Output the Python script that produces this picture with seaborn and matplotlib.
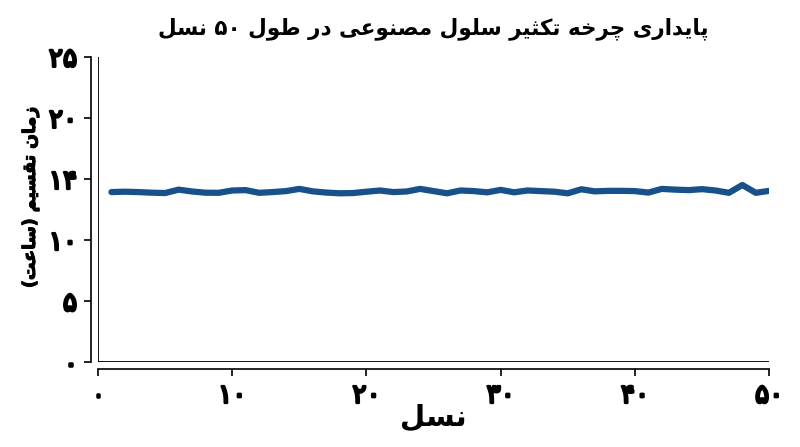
import re
import numpy as np
import matplotlib
matplotlib.use("Agg")
import matplotlib.pyplot as plt
import matplotlib.patheffects as pe
import seaborn as sns
import pandas as pd

# generation number and division time (hours)
generations = list(range(1, 51))
division_time = [13.92, 13.95, 13.92, 13.87, 13.84, 14.12, 13.97, 13.87, 13.86, 14.05,
                 14.08, 13.86, 13.92, 14.00, 14.18, 13.98, 13.88, 13.82, 13.84, 13.95,
                 14.05, 13.92, 13.97, 14.18, 14.00, 13.82, 14.05, 14.00, 13.90, 14.10,
                 13.90, 14.05, 14.00, 13.95, 13.82, 14.15, 13.98, 14.02, 14.02, 14.00,
                 13.88, 14.18, 14.12, 14.08, 14.16, 14.05, 13.86, 14.50, 13.86, 14.02]

x_ticks = [0, 10, 20, 30, 40, 50]
x_ticklabels = ["۰", "۱۰", "۲۰", "۳۰", "۴۰", "۵۰"]
y_ticks = [0, 5, 10, 15, 20, 25]
y_ticklabels = ["۰", "۵", "۱۰", "۱۴", "۲۰", "۲۵"]

title = "پایداری چرخه تکثیر سلول مصنوعی در طول ۵۰ نسل"
xlabel = "نسل"
ylabel = "زمان تقسیم (ساعت)"

# presentation forms: isolated, final, initial, medial
FORMS = {
    "ا": ("\uFE8D", "\uFE8E", None, None),
    "د": ("\uFEA9", "\uFEAA", None, None),
    "ر": ("\uFEAD", "\uFEAE", None, None),
    "ز": ("\uFEAF", "\uFEB0", None, None),
    "و": ("\uFEED", "\uFEEE", None, None),
    "ت": ("\uFE95", "\uFE96", "\uFE97", "\uFE98"),
    "ث": ("\uFE99", "\uFE9A", "\uFE9B", "\uFE9C"),
    "خ": ("\uFEA5", "\uFEA6", "\uFEA7", "\uFEA8"),
    "س": ("\uFEB1", "\uFEB2", "\uFEB3", "\uFEB4"),
    "ص": ("\uFEB9", "\uFEBA", "\uFEBB", "\uFEBC"),
    "ط": ("\uFEC1", "\uFEC2", "\uFEC3", "\uFEC4"),
    "ع": ("\uFEC9", "\uFECA", "\uFECB", "\uFECC"),
    "ق": ("\uFED5", "\uFED6", "\uFED7", "\uFED8"),
    "ل": ("\uFEDD", "\uFEDE", "\uFEDF", "\uFEE0"),
    "م": ("\uFEE1", "\uFEE2", "\uFEE3", "\uFEE4"),
    "ن": ("\uFEE5", "\uFEE6", "\uFEE7", "\uFEE8"),
    "ه": ("\uFEE9", "\uFEEA", "\uFEEB", "\uFEEC"),
    "ی": ("\uFBFC", "\uFBFD", "\uFBFE", "\uFBFF"),
    "پ": ("\uFB56", "\uFB57", "\uFB58", "\uFB59"),
    "چ": ("\uFB7A", "\uFB7B", "\uFB7C", "\uFB7D"),
    "ک": ("\uFB8E", "\uFB8F", "\uFB90", "\uFB91"),
}


def fa(text):
    out = []
    for k, c in enumerate(text):
        if c not in FORMS:
            out.append(c)
            continue
        prev = text[k - 1] if k > 0 else ""
        nxt = text[k + 1] if k + 1 < len(text) else ""
        join_prev = prev in FORMS and FORMS[prev][2] is not None
        join_next = FORMS[c][2] is not None and nxt in FORMS
        iso, fin, ini, med = FORMS[c]
        if join_prev and join_next:
            out.append(med)
        elif join_prev:
            out.append(fin)
        elif join_next:
            out.append(ini)
        else:
            out.append(iso)
    vis = "".join(out)[::-1]
    vis = re.sub("[۰-۹]+", lambda m: m.group(0)[::-1], vis)
    return vis.translate(str.maketrans("()", ")("))


df = pd.DataFrame({"gen": generations, "hours": division_time})

sns.set_theme(style="ticks")
plt.rcParams["font.family"] = ["DejaVu Sans"]
plt.rcParams["text.color"] = "black"
plt.rcParams["axes.labelcolor"] = "black"
plt.rcParams["xtick.color"] = "black"
plt.rcParams["ytick.color"] = "black"

fig = plt.figure(figsize=(8, 4.47), dpi=100)
ax = fig.add_axes([0.1225, 0.19, 0.839, 0.683])

sns.lineplot(data=df, x="gen", y="hours", color="#17508a", lw=4.5, ax=ax)
ax.axhline(0, color="black", lw=1.3)
ax.axvline(0, color="black", lw=1.3)

for s in ["left", "bottom"]:
    ax.spines[s].set_color("black")
    ax.spines[s].set_linewidth(1.2)
# despine resets the ticks, so do it before styling them
sns.despine(ax=ax, offset=5)

ax.set_xlim(0, 50)
ax.set_ylim(0, 25)
ax.set_xticks(x_ticks, x_ticklabels)
ax.set_yticks(y_ticks, y_ticklabels)
ax.tick_params(axis="both", length=5, width=1.2, pad=5, labelsize=19)
# digits have no bold glyphs, thicken them with a stroke
bold = [pe.withStroke(linewidth=1.8, foreground="black")]
for lbl in ax.get_xticklabels() + ax.get_yticklabels():
    lbl.set_path_effects(bold)

ax.set_xlabel(fa(xlabel), fontsize=21, fontweight="bold")
ax.xaxis.set_label_coords(0.5, -0.135)
ax.set_ylabel(fa(ylabel), fontsize=12.5, fontweight="bold",
              path_effects=[pe.withStroke(linewidth=0.8, foreground="black")])
ax.yaxis.set_label_coords(-0.088, 0.54)
ax.set_title(fa(title), fontsize=15.5, fontweight="bold", pad=16)

fig.savefig("out.png", dpi=100)
